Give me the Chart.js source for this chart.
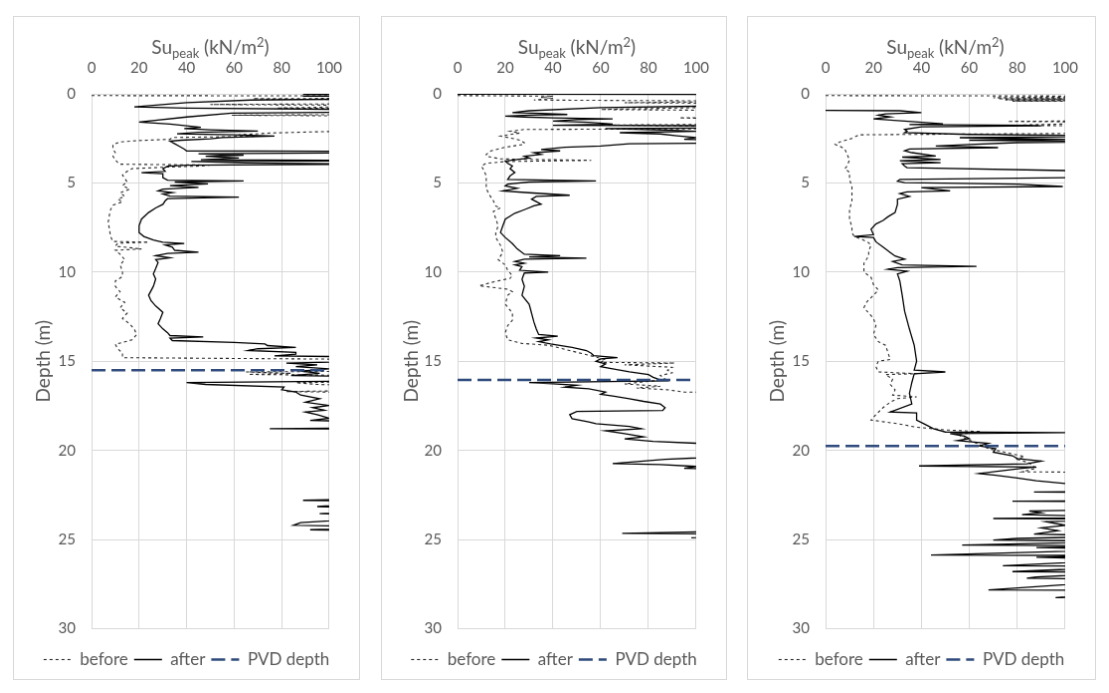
<!DOCTYPE html>
<html>
<head>
<meta charset="utf-8">
<script src="https://cdn.jsdelivr.net/npm/chart.js@4.4.1/dist/chart.umd.min.js"></script>
<style>
  body { margin: 0; background: #fff; width: 1109px; height: 693px; position: relative; overflow: hidden; }
  canvas { position: absolute; top: 16px; border: 1px solid #d9d9d9; }
</style>
</head>
<body>
<canvas id="c1" width="347" height="664" style="left:13px"></canvas>
<canvas id="c2" width="346" height="664" style="left:381px"></canvas>
<canvas id="c3" width="349" height="664" style="left:747px"></canvas>
<script>
const suTicks = [0, 20, 40, 60, 80, 100];
const depthTicks = [0, 5, 10, 15, 20, 25, 30];
const seriesNames = ['before', 'after', 'PVD depth'];
const pvdDepths = [15.5, 16.05, 19.75];
const OFF = 130; // reading past the 100 kN/m2 edge, gets clipped

// rows are [depth (m), Su peak (kN/m2)]
const before1 = [[0.1,0],[0.12,OFF],[0.25,OFF],[0.27,68],[0.3,75],[0.33,OFF],[0.55,OFF],[0.6,50],[0.63,92],[0.66,OFF],[0.8,78],[0.85,OFF],[1.15,OFF],[1.2,59],[1.25,OFF],[2.05,OFF],[2.12,98],[2.2,75],[2.3,62],[2.38,70],[2.45,34],[2.55,33],[2.62,20],[2.7,12],[2.85,9],[3.1,9],[3.3,10],[3.5,9],[3.7,10],[3.85,11],[3.95,12],[4.0,50],[4.05,46],[4.12,30],[4.2,17],[4.35,15],[4.55,13],[4.75,14],[4.95,15],[5.15,13],[5.35,16],[5.55,12],[5.75,14],[5.9,11],[6.05,13],[6.25,9],[6.5,8],[6.8,7.5],[7.2,7],[7.6,7.5],[8.0,8],[8.28,9],[8.32,24],[8.38,11],[8.55,10],[8.7,21],[8.78,10],[9.0,12],[9.3,14],[9.6,12],[9.95,13],[10.25,13],[10.5,10],[10.8,10],[11.1,12],[11.4,10],[11.7,14],[12.0,12],[12.3,15],[12.6,13],[12.9,16],[13.2,18],[13.5,19],[13.8,17],[14.05,10],[14.3,11],[14.55,13],[14.8,13],[14.88,100],[14.92,OFF],[15.55,OFF],[15.6,65],[15.68,84],[15.74,66],[15.82,OFF],[16.12,OFF],[16.2,86],[16.3,95],[16.42,OFF],[16.62,OFF],[16.7,82],[16.78,OFF],[16.9,OFF]];
const after1 = [[0.0,OFF],[0.03,89],[0.06,OFF],[0.1,OFF],[0.13,89],[0.16,OFF],[0.27,OFF],[0.35,67],[0.5,40],[0.73,18],[0.8,40],[0.9,OFF],[1.02,OFF],[1.08,59],[1.3,40],[1.59,20],[1.7,33],[1.81,41],[1.88,46],[1.95,39],[2.02,50],[2.09,70],[2.16,45],[2.24,36],[2.3,60],[2.37,77],[2.45,55],[2.52,50],[2.6,38],[2.66,33],[2.8,35],[2.95,37],[3.1,39],[3.2,40],[3.24,OFF],[3.3,OFF],[3.36,45],[3.44,64],[3.5,48],[3.6,62],[3.7,46],[3.75,OFF],[3.8,42],[3.88,65],[3.95,OFF],[4.0,40],[4.06,32],[4.2,30],[4.35,31],[4.42,21],[4.48,30],[4.7,30],[4.84,32],[4.89,64],[4.95,35],[5.05,49],[5.15,33],[5.25,45],[5.35,30],[5.45,28],[5.54,34],[5.62,30],[5.74,33],[5.8,62],[5.88,32],[6.0,31],[6.2,30],[6.4,27],[6.66,24],[7.03,21],[7.4,20],[7.78,20],[8.0,22],[8.2,26],[8.32,30],[8.4,39],[8.48,31],[8.6,34],[8.78,35],[8.88,45],[8.95,32],[9.08,27],[9.2,33],[9.3,27],[9.46,28],[9.8,27],[10.1,26],[10.39,27],[10.8,26],[11.3,24],[11.6,25],[11.9,27],[12.26,30],[12.6,29],[12.9,28],[13.19,30],[13.4,32],[13.56,33],[13.64,47],[13.7,33],[13.84,34],[13.95,60],[14.03,73],[14.12,74],[14.22,86],[14.3,70],[14.4,66],[14.5,86],[14.6,86],[14.7,77],[14.78,OFF],[14.95,OFF],[15.1,82],[15.2,95],[15.3,86],[15.43,100],[15.55,88],[15.68,96],[15.8,84],[15.9,OFF],[16.08,OFF],[16.2,40],[16.3,48],[16.45,81],[16.6,80],[16.73,86],[16.9,88],[17.1,96],[17.3,90],[17.48,100],[17.6,93],[17.75,98],[17.85,90],[18.0,95],[18.2,100],[18.32,92],[18.42,OFF],[18.72,OFF],[18.78,75],[18.82,OFF],[22.7,OFF],[22.8,89],[22.85,OFF],[23.15,95],[23.3,OFF],[23.55,96],[23.7,OFF],[24.05,88],[24.2,85],[24.3,OFF],[24.45,92],[24.55,OFF],[24.8,OFF]];

const before2 = [[0.1,0],[0.13,40],[0.2,35],[0.25,40],[0.35,32],[0.41,OFF],[0.5,70],[0.55,OFF],[0.7,OFF],[0.88,60],[0.95,OFF],[1.3,OFF],[1.35,93],[1.45,OFF],[1.7,OFF],[1.75,63],[1.85,OFF],[1.95,OFF],[2.0,28],[2.1,22],[2.2,26],[2.37,18],[2.5,23],[2.6,26],[2.75,28],[2.83,28],[3.0,20],[3.2,14],[3.4,12],[3.5,12],[3.65,18],[3.73,56],[3.8,20],[3.9,12],[4.05,10],[4.3,11],[4.6,12],[5.0,12],[5.3,12],[5.6,13],[6.0,15],[6.3,16],[6.4,18],[6.6,15],[7.0,16],[7.4,17],[7.8,16],[8.06,16],[8.5,18],[8.9,19],[9.3,17],[9.6,20],[9.9,21],[10.2,23],[10.35,22],[10.55,15],[10.77,9],[10.85,14],[10.96,21],[11.1,23],[11.3,21],[11.8,20],[12.3,23],[12.7,23],[13.0,21],[13.4,20],[13.8,21],[14.0,27],[14.1,38],[14.3,44],[14.5,50],[14.7,56],[14.9,62],[15.06,60],[15.1,91],[15.2,70],[15.34,90],[15.5,88],[15.65,90],[15.8,85],[16.0,87],[16.1,82],[16.27,70],[16.4,85],[16.5,75],[16.6,88],[16.73,95],[16.76,OFF]];
const after2 = [[0.02,0],[0.04,OFF],[0.6,OFF],[0.7,100],[0.78,60],[0.95,30],[1.06,23],[1.1,35],[1.16,46],[1.2,30],[1.25,20],[1.3,28],[1.35,40],[1.4,65],[1.45,50],[1.53,40],[1.6,55],[1.7,65],[1.77,40],[1.8,OFF],[1.9,OFF],[1.95,62],[2.05,90],[2.1,100],[2.18,68],[2.25,85],[2.35,92],[2.45,100],[2.55,95],[2.65,OFF],[2.75,OFF],[2.8,72],[2.93,60],[3.0,45],[3.12,35],[3.2,43],[3.3,32],[3.4,35],[3.5,28],[3.6,30],[3.68,25],[3.77,20],[3.9,21],[4.05,23],[4.2,22],[4.42,24],[4.6,22],[4.8,21],[4.89,58],[4.95,30],[5.07,21],[5.17,20],[5.3,25],[5.45,19],[5.55,30],[5.69,47],[5.75,33],[5.91,31],[6.05,33],[6.19,35],[6.29,32],[6.5,28],[6.7,24],[7.03,20],[7.4,19],[7.78,18],[8.06,20],[8.4,23],[8.7,25],[9.0,28],[9.08,43],[9.15,30],[9.22,54],[9.27,28],[9.4,24],[9.5,28],[9.6,24],[9.7,27],[9.9,26],[10.0,38],[10.05,28],[10.4,27],[10.8,28],[11.3,27],[11.8,30],[12.3,31],[12.8,32],[13.2,33],[13.5,34],[13.6,42],[13.7,33],[13.8,38],[13.9,34],[14.03,39],[14.22,48],[14.4,54],[14.55,56],[14.68,57],[14.8,67],[14.87,60],[15.0,58],[15.15,62],[15.3,60],[15.43,65],[15.6,72],[15.75,80],[15.9,82],[16.0,84],[16.1,87],[16.2,30],[16.27,40],[16.35,50],[16.45,45],[16.55,55],[16.73,62],[16.85,60],[16.95,65],[17.1,72],[17.25,78],[17.4,85],[17.6,87],[17.76,86],[17.82,50],[18.0,47],[18.22,48],[18.4,55],[18.5,58],[18.65,72],[18.78,77],[18.9,62],[19.06,70],[19.24,78],[19.35,70],[19.5,82],[19.6,100],[19.65,OFF],[20.25,OFF],[20.5,87],[20.74,65],[20.8,85],[20.9,100],[21.0,95],[21.1,OFF],[24.5,OFF],[24.65,69],[24.7,OFF],[24.9,98],[25.0,OFF]];

const before3 = [[0.1,0],[0.13,OFF],[0.22,70],[0.25,OFF],[0.28,72],[0.31,OFF],[0.34,75],[0.37,OFF],[0.41,78],[0.43,OFF],[1.5,OFF],[1.55,76],[1.6,OFF],[1.75,82],[1.78,90],[1.82,OFF],[2.2,OFF],[2.28,33],[2.3,14],[2.5,11],[2.7,6],[2.84,4],[2.95,6],[3.1,8],[3.4,9],[3.7,10],[4.05,9],[4.2,8],[4.4,10],[4.8,10],[5.2,11],[5.6,11],[6.0,11],[6.5,10],[7.0,10],[7.5,11],[7.8,11],[8.0,12],[8.15,15],[8.35,18],[8.5,19],[8.8,18],[9.1,18],[9.5,16],[10.0,16],[10.3,19],[10.7,20],[11.0,22],[11.3,20],[11.7,17],[12.0,16],[12.3,18],[12.6,20],[13.0,21],[13.5,20],[13.9,22],[14.1,25],[14.5,26],[14.9,27],[15.0,22],[15.3,21],[15.6,22],[15.7,38],[15.75,25],[16.0,28],[16.3,27],[16.6,29],[16.9,28],[17.0,38],[17.1,30],[17.3,27],[17.6,24],[18.0,21],[18.3,19],[18.5,30],[18.7,38],[18.85,50],[18.95,65],[19.1,55],[19.3,58],[19.6,63],[19.9,68],[20.2,78],[20.35,83],[20.5,80],[20.7,85],[21.0,88],[21.2,82],[21.25,OFF]];
const after3 = [[0.93,0],[0.95,31],[1.05,40],[1.12,25],[1.2,22],[1.3,27],[1.4,20],[1.5,30],[1.68,49],[1.73,35],[1.77,85],[1.8,90],[1.85,40],[2.0,33],[2.1,34],[2.18,33],[2.28,60],[2.37,OFF],[2.46,56],[2.55,100],[2.6,60],[2.68,OFF],[2.74,80],[2.85,60],[2.93,46],[3.02,72],[3.1,35],[3.2,33],[3.3,36],[3.49,46],[3.55,32],[3.68,48],[3.75,31],[3.86,48],[3.92,32],[4.05,33],[4.14,34],[4.38,OFF],[4.6,OFF],[4.7,100],[4.8,31],[4.9,30],[4.98,33],[5.07,80],[5.2,99],[5.26,40],[5.45,52],[5.5,34],[5.6,31],[5.75,35],[5.91,30],[6.2,30],[6.66,29],[6.9,26],[7.1,24],[7.3,21],[7.6,19],[7.9,20],[8.0,12],[8.06,20],[8.3,21],[8.6,24],[8.9,27],[9.1,29],[9.27,33],[9.4,28],[9.6,32],[9.68,63],[9.75,30],[9.84,26],[9.95,34],[10.1,30],[10.5,31],[11.3,32],[12.2,33],[13.2,35],[14.1,37],[15.0,38],[15.5,37],[15.6,50],[15.7,37],[16.2,36],[16.8,35],[17.4,36],[17.85,27],[17.9,38],[18.3,38],[18.5,41],[18.78,45],[18.97,50],[19.0,100],[19.06,52],[19.2,58],[19.34,60],[19.45,55],[19.6,68],[19.75,64],[19.9,71],[20.1,70],[20.3,78],[20.46,80],[20.6,90],[20.75,84],[20.87,39],[20.93,88],[21.0,82],[21.2,70],[21.3,64],[21.4,71],[21.55,80],[21.7,88],[21.86,100],[21.9,OFF],[22.3,OFF],[22.33,87],[22.36,OFF],[22.82,OFF],[22.85,78],[22.88,OFF],[23.3,OFF],[23.4,85],[23.5,90],[23.6,82],[23.75,OFF],[23.82,70],[23.86,OFF],[24.0,92],[24.2,100],[24.35,90],[24.5,97],[24.7,87],[24.8,OFF],[24.94,80],[25.03,70],[25.1,OFF],[25.31,57],[25.35,OFF],[25.45,88],[25.55,OFF],[25.87,44],[25.9,OFF],[26.0,88],[26.1,OFF],[26.47,74],[26.5,OFF],[26.8,78],[26.83,OFF],[27.1,88],[27.17,84],[27.25,OFF],[27.83,68],[27.86,OFF],[28.26,96],[28.3,OFF]];

const textGrey = '#595959';
const gridGrey = '#d9d9d9';
const FONT = 'Lato, "Open Sans", sans-serif';
const SIDE = 4; // layout padding left and right
Chart.defaults.font.family = FONT;

// axis title with a subscript and a superscript, centred over the plot
const suTitle = {
    id: 'suTitle',
    afterDraw(chart) {
        const ctx = chart.ctx;
        const area = chart.chartArea;
        const big = '19px ' + FONT;
        const small = '13px ' + FONT;
        const parts = [['Su', big, 0], ['peak', small, 4], [' (kN/m', big, 0], ['2', small, -7], [')', big, 0]];
        ctx.save();
        ctx.fillStyle = textGrey;
        ctx.textBaseline = 'alphabetic';
        let w = 0;
        parts.forEach(p => { ctx.font = p[1]; w += ctx.measureText(p[0]).width; });
        let x = (area.left + area.right) / 2 - w / 2;
        parts.forEach(p => {
            ctx.font = p[1];
            ctx.fillText(p[0], x, 37 + p[2]);
            x += ctx.measureText(p[0]).width;
        });
        ctx.restore();
    }
};

function makePanel(id, before, after, pvd, plotLeft, plotRight) {
    const canvas = document.getElementById(id);
    const W = canvas.width;
    const pts = rows => rows.map(r => ({x: r[1], y: r[0]}));
    new Chart(canvas, {
        type: 'scatter',
        data: {
            datasets: [
                {label: seriesNames[0], data: pts(before), showLine: true, pointRadius: 0, borderColor: '#2b2b2b', borderWidth: 1.1, borderDash: [3, 3], order: 2},
                {label: seriesNames[1], data: pts(after), showLine: true, pointRadius: 0, borderColor: '#000000', borderWidth: 1.3, order: 1},
                {label: seriesNames[2], data: [{x: 0, y: pvd}, {x: 100, y: pvd}], showLine: true, pointRadius: 0, borderColor: '#2f4b7c', borderWidth: 2.5, borderDash: [14, 6], order: 0}
            ]
        },
        options: {
            responsive: false,
            animation: false,
            events: [],
            elements: {line: {tension: 0}},
            layout: {padding: {left: SIDE, right: SIDE, top: 0, bottom: 1}},
            scales: {
                x: {
                    type: 'linear', position: 'top', min: 0, max: 100,
                    afterBuildTicks: s => { s.ticks = suTicks.map(v => ({value: v})); },
                    afterFit: s => { s.height = 77; },
                    ticks: {color: textGrey, font: {size: 15}, padding: 17},
                    grid: {color: gridGrey, drawTicks: false},
                    border: {color: gridGrey}
                },
                y: {
                    type: 'linear', reverse: true, min: 0, max: 30,
                    afterBuildTicks: s => { s.ticks = depthTicks.map(v => ({value: v})); },
                    afterFit: s => { s.width = plotLeft - SIDE; },
                    ticks: {color: textGrey, font: {size: 15}, padding: 16},
                    grid: {color: gridGrey, drawTicks: false},
                    border: {color: gridGrey},
                    title: {display: true, text: 'Depth (m)', color: textGrey, font: {size: 19}, padding: {top: 14, bottom: 0}}
                },
                y2: {
                    type: 'linear', position: 'right',
                    afterFit: s => { s.width = W - SIDE - plotRight; },
                    ticks: {display: false},
                    grid: {display: false},
                    border: {display: false}
                }
            },
            plugins: {
                tooltip: {enabled: false},
                legend: {
                    position: 'bottom',
                    title: {display: true, text: '', padding: {top: 6.5, bottom: 0}, font: {size: 10, lineHeight: 1}},
                    labels: {
                        usePointStyle: true,
                        pointStyleWidth: 28,
                        padding: 6,
                        color: textGrey,
                        font: {size: 17},
                        generateLabels: chart => chart.data.datasets.map((ds, i) => ({
                            text: ds.label,
                            strokeStyle: ds.borderColor,
                            fillStyle: ds.borderColor,
                            lineWidth: ds.borderWidth,
                            lineDash: ds.borderDash || [],
                            pointStyle: 'line',
                            fontColor: textGrey,
                            datasetIndex: i
                        }))
                    }
                }
            }
        },
        plugins: [suTitle]
    });
}

makePanel('c1', before1, after1, pvdDepths[0], 78, 319);
makePanel('c2', before2, after2, pvdDepths[1], 76, 319);
makePanel('c3', before3, after3, pvdDepths[2], 78, 322);
</script>
</body>
</html>
